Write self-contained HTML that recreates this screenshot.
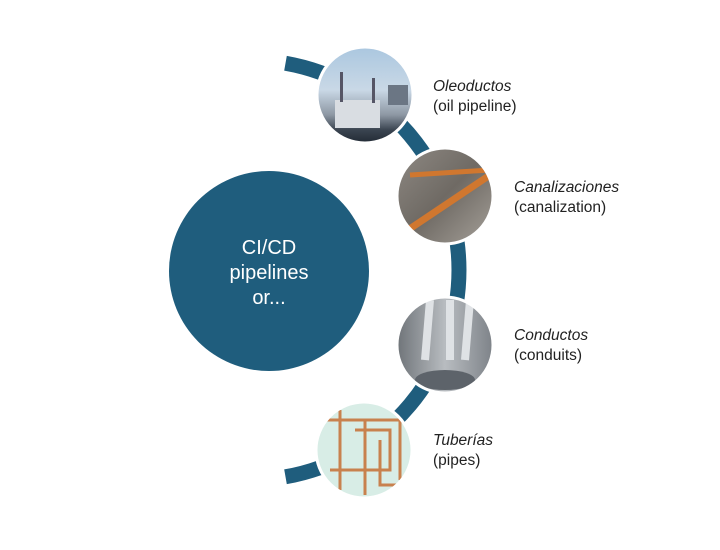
<!DOCTYPE html>
<html><head><meta charset="utf-8"><style>
body{margin:0;background:#fff;width:720px;height:550px;overflow:hidden;font-family:"Liberation Sans",sans-serif}
.t{position:absolute;font-size:15.5px;color:#222;line-height:20px}
.t i{display:block}
</style></head><body>
<svg width="720" height="550" style="position:absolute;left:0;top:0">
<defs>
<linearGradient id="g1" x1="0" y1="0" x2="0" y2="1"><stop offset="0" stop-color="#a9c6df"/><stop offset="0.45" stop-color="#c9d8e6"/><stop offset="0.7" stop-color="#8d97a3"/><stop offset="0.85" stop-color="#3a4450"/><stop offset="1" stop-color="#1e2630"/></linearGradient>
<linearGradient id="g2" x1="0" y1="0" x2="1" y2="1"><stop offset="0" stop-color="#8f8a84"/><stop offset="0.5" stop-color="#6f6a64"/><stop offset="1" stop-color="#a8a39c"/></linearGradient>
<linearGradient id="g3" x1="0" y1="0" x2="1" y2="0"><stop offset="0" stop-color="#6c7176"/><stop offset="0.5" stop-color="#b8bcc0"/><stop offset="1" stop-color="#7b8086"/></linearGradient>
<clipPath id="c1"><circle cx="365" cy="95" r="47"/></clipPath>
<clipPath id="c2"><circle cx="445" cy="196" r="47"/></clipPath>
<clipPath id="c3"><circle cx="445" cy="345" r="47"/></clipPath>
<clipPath id="c4"><circle cx="364" cy="450" r="47"/></clipPath>
</defs>
<path d="M 285.5 63.2 A 210 210 0 0 1 285.5 476.8" fill="none" stroke="#1f5d7d" stroke-width="15"/>
<circle cx="269" cy="271" r="100" fill="#1f5d7d"/>
<text x="269" y="254" fill="#fff" font-size="20" text-anchor="middle" font-family="Liberation Sans">CI/CD</text>
<text x="269" y="279" fill="#fff" font-size="20" text-anchor="middle" font-family="Liberation Sans">pipelines</text>
<text x="269" y="304" fill="#fff" font-size="20" text-anchor="middle" font-family="Liberation Sans">or...</text>
<g clip-path="url(#c1)"><rect x="315" y="45" width="100" height="100" fill="url(#g1)"/><rect x="335" y="100" width="45" height="28" fill="#d9dde2"/><rect x="340" y="72" width="3" height="30" fill="#556"/><rect x="372" y="78" width="3" height="25" fill="#556"/><rect x="388" y="85" width="20" height="20" fill="#6b7684"/></g>
<circle cx="365" cy="95" r="48" fill="none" stroke="#fff" stroke-width="3"/>
<g clip-path="url(#c2)"><rect x="395" y="146" width="100" height="100" fill="url(#g2)"/><path d="M405 232 L490 175" stroke="#d0772f" stroke-width="7"/><path d="M410 175 L490 170" stroke="#d0772f" stroke-width="5"/></g>
<circle cx="445" cy="196" r="48" fill="none" stroke="#fff" stroke-width="3"/>
<g clip-path="url(#c3)"><rect x="395" y="295" width="100" height="100" fill="url(#g3)"/><path d="M430 300 L425 360 M450 300 L450 360 M470 300 L465 360" stroke="#dfe2e5" stroke-width="8"/><ellipse cx="445" cy="380" rx="30" ry="10" fill="#5d636a"/></g>
<circle cx="445" cy="345" r="48" fill="none" stroke="#fff" stroke-width="3"/>
<g clip-path="url(#c4)"><rect x="314" y="400" width="100" height="100" fill="#d8ede6"/><path d="M325 420 H400 V480 M340 410 V490 M355 430 H390 V470 H330 M365 420 V495 M380 440 V485 H405" stroke="#c8814e" stroke-width="3" fill="none"/></g>
<circle cx="364" cy="450" r="48" fill="none" stroke="#fff" stroke-width="3"/>
</svg>
<div class="t" style="left:433px;top:77px"><i>Oleoductos</i>(oil pipeline)</div>
<div class="t" style="left:514px;top:178px"><i>Canalizaciones</i>(canalization)</div>
<div class="t" style="left:514px;top:326px"><i>Conductos</i>(conduits)</div>
<div class="t" style="left:433px;top:431px"><i>Tuberías</i>(pipes)</div>
</body></html>
